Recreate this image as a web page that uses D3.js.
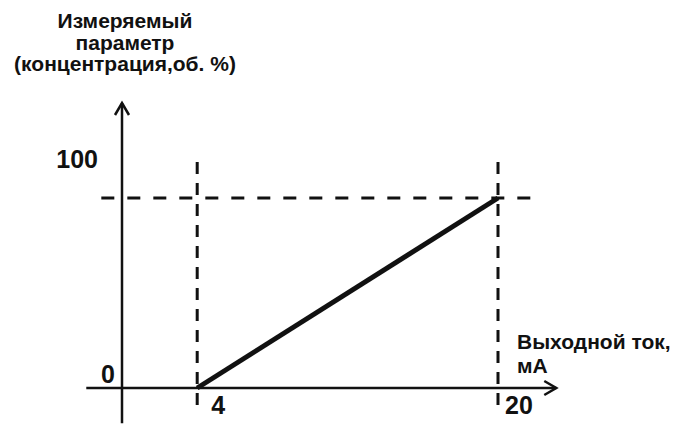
<!DOCTYPE html>
<html>
<head>
<meta charset="utf-8">
<script src="https://cdn.jsdelivr.net/npm/d3@7"></script>
<style>
  body { margin: 0; background: #fff; }
  text { font-family: "Liberation Sans", Arial, sans-serif; font-weight: bold; fill: #111; }
</style>
</head>
<body>
<script>

// output current (mA) vs measured parameter (% vol)
const currentPoints = [4, 20]
const paramPoints = [0, 100]
const currentTicks = ["4", "20"]
const paramTicks = ["0", "100"]
const yTitle = ["Измеряемый", "параметр", "(концентрация,об. %)"]
const xTitle = ["Выходной ток,", "мА"]

window.onload = function (){

    const width = 676, height = 425
    const ink = "#111"

    const svg = d3.select('body')
        .append('svg')
        .attr('width', width)
        .attr('height', height)

    const x = d3.scaleLinear().domain([0, 20]).range([122, 498])
    const y = d3.scaleLinear().domain([0, 100]).range([388, 198])

    // axes with open arrow heads
    function arrowHead(tipX, tipY, dir){
        let pts
        if (dir === 'up') pts = [[tipX - 7, tipY + 12], [tipX, tipY], [tipX + 7, tipY + 12]]
        else pts = [[tipX - 12, tipY - 7], [tipX, tipY], [tipX - 12, tipY + 7]]
        svg.append('path')
            .attr('d', d3.line()(pts))
            .attr('fill', 'none')
            .attr('stroke', ink)
            .attr('stroke-width', 2.5)
    }

    svg.append('line')
        .attr('x1', x(0)).attr('x2', x(0))
        .attr('y1', y(-18.5)).attr('y2', y(150))
        .attr('stroke', ink).attr('stroke-width', 2.5)
    arrowHead(x(0), y(150), 'up')

    svg.append('line')
        .attr('x1', x(-1.9)).attr('x2', x(23.1))
        .attr('y1', y(0)).attr('y2', y(0))
        .attr('stroke', ink).attr('stroke-width', 2.5)
    arrowHead(x(23.1), y(0), 'right')

    // dashed guide lines
    svg.append('line')
        .attr('x1', x(-1.1)).attr('x2', x(22.2))
        .attr('y1', y(100)).attr('y2', y(100))
        .attr('stroke', ink).attr('stroke-width', 3)
        .attr('stroke-dasharray', '13,13')

    svg.selectAll('line.guide')
        .data(currentPoints)
        .join('line')
        .attr('class', 'guide')
        .attr('x1', d => x(d)).attr('x2', d => x(d))
        .attr('y1', y(119)).attr('y2', y(-10.5))
        .attr('stroke', ink).attr('stroke-width', 3)
        .attr('stroke-dasharray', '12,9')

    // characteristic line
    const lineData = currentPoints.map((c, i) => [c, paramPoints[i]])
    svg.append('path')
        .attr('d', d3.line().x(d => x(d[0])).y(d => y(d[1]))(lineData))
        .attr('fill', 'none')
        .attr('stroke', ink)
        .attr('stroke-width', 5)

    // tick labels
    svg.selectAll('text.xtick')
        .data(currentTicks)
        .join('text')
        .attr('class', 'xtick')
        .attr('x', (d, i) => x(currentPoints[i]) + (i === 0 ? 14 : 7))
        .attr('y', y(0) + 26)
        .style('font-size', '25px')
        .text(d => d)

    svg.selectAll('text.ytick')
        .data(paramTicks)
        .join('text')
        .attr('class', 'ytick')
        .attr('text-anchor', 'end')
        .attr('x', (d, i) => x(0) - (i === 0 ? 7 : 24))
        .attr('y', (d, i) => y(paramPoints[i]) - (i === 0 ? 5 : 30))
        .style('font-size', '25px')
        .text(d => d)

    // axis titles
    svg.selectAll('text.ytitle')
        .data(yTitle)
        .join('text')
        .attr('class', 'ytitle')
        .attr('text-anchor', 'middle')
        .attr('x', 125)
        .attr('y', (d, i) => 28 + i * 21.5)
        .style('font-size', '21px')
        .text(d => d)

    svg.selectAll('text.xtitle')
        .data(xTitle)
        .join('text')
        .attr('class', 'xtitle')
        .attr('x', 517)
        .attr('y', (d, i) => 349 + i * 24)
        .style('font-size', '21px')
        .text(d => d)
}
</script>
</body>
</html>
